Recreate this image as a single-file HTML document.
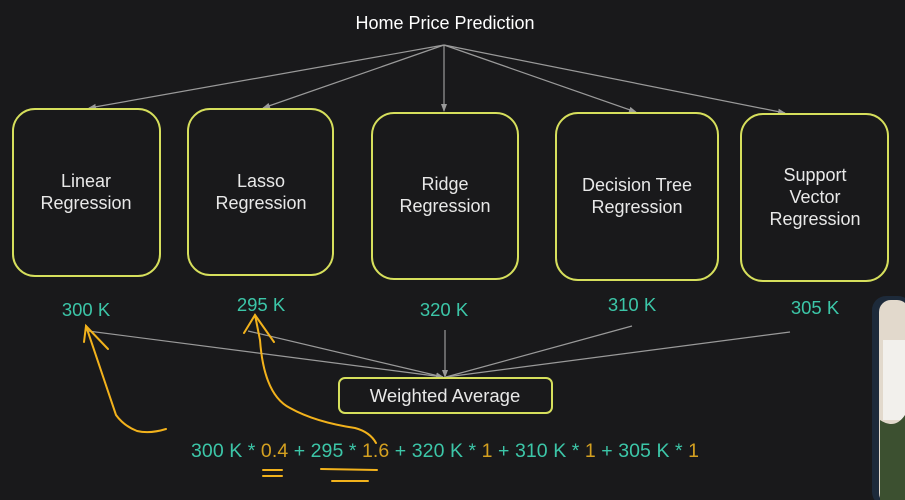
<!DOCTYPE html>
<html><head><meta charset="utf-8"><style>
html,body{margin:0;padding:0;background:#19191b;}
svg{display:block;font-family:"Liberation Sans",sans-serif;}
</style></head><body>
<svg width="905" height="500" viewBox="0 0 905 500">
<defs><marker id="ah" markerWidth="8" markerHeight="8" refX="7" refY="4" orient="auto" markerUnits="userSpaceOnUse"><path d="M0,1 L8,4 L0,7 Z" fill="#9a9a9a"/></marker></defs>
<rect width="905" height="500" fill="#19191b"/>
<g>
<rect x="872" y="296" width="40" height="210" rx="14" fill="#1d2a3a"/>
<rect x="879" y="300" width="30" height="205" rx="12" fill="#e2d9cc"/>
<rect x="883" y="340" width="22" height="80" fill="#f2f0ec"/>
<path d="M880,420 Q895,430 905,415 L905,500 L880,500 Z" fill="#3c5030"/>
</g>
<text x="445" y="29" fill="#ffffff" font-size="18" text-anchor="middle">Home Price Prediction</text>
<g stroke="#9a9a9a" stroke-width="1.2" fill="none">
<line x1="444" y1="45" x2="89" y2="108" marker-end="url(#ah)"/>
<line x1="444" y1="45" x2="263" y2="108" marker-end="url(#ah)"/>
<line x1="444" y1="45" x2="444" y2="111" marker-end="url(#ah)"/>
<line x1="444" y1="45" x2="636" y2="112" marker-end="url(#ah)"/>
<line x1="444" y1="45" x2="785" y2="113" marker-end="url(#ah)"/>
</g>
<g stroke="#d6df5c" stroke-width="2" fill="none">
<rect x="13" y="109" width="147" height="167" rx="22"/>
<rect x="188" y="109" width="145" height="166" rx="22"/>
<rect x="372" y="113" width="146" height="166" rx="22"/>
<rect x="556" y="113" width="162" height="167" rx="22"/>
<rect x="741" y="114" width="147" height="167" rx="22"/>
</g>
<g fill="#e8e8e8" font-size="18" text-anchor="middle">
<text x="86" y="187"><tspan x="86">Linear</tspan><tspan x="86" dy="22">Regression</tspan></text>
<text x="261" y="187"><tspan x="261">Lasso</tspan><tspan x="261" dy="22">Regression</tspan></text>
<text x="445" y="190"><tspan x="445">Ridge</tspan><tspan x="445" dy="22">Regression</tspan></text>
<text x="637" y="191"><tspan x="637">Decision Tree</tspan><tspan x="637" dy="22">Regression</tspan></text>
<text x="815" y="181"><tspan x="815">Support</tspan><tspan x="815" dy="22">Vector</tspan><tspan x="815" dy="22">Regression</tspan></text>
</g>
<g fill="#3cc6a8" font-size="18.5" text-anchor="middle">
<text x="86" y="316">300 K</text>
<text x="261" y="311">295 K</text>
<text x="444" y="316">320 K</text>
<text x="632" y="311">310 K</text>
<text x="815" y="314">305 K</text>
</g>
<g stroke="#9a9a9a" stroke-width="1.2" fill="none">
<line x1="88" y1="331" x2="443" y2="377" marker-end="url(#ah)"/>
<line x1="248" y1="331" x2="443" y2="377" marker-end="url(#ah)"/>
<line x1="445" y1="330" x2="445" y2="377" marker-end="url(#ah)"/>
<line x1="632" y1="326" x2="446" y2="377"/>
<line x1="790" y1="332" x2="446" y2="377"/>
</g>
<rect x="339" y="378" width="213" height="35" rx="6" fill="none" stroke="#d6df5c" stroke-width="2"/>
<text x="445" y="402" fill="#e8e8e8" font-size="18.5" text-anchor="middle">Weighted Average</text>
<text x="191" y="457" font-size="19.5" fill="#3cc6a8" textLength="508" lengthAdjust="spacing">300 K * <tspan fill="#d4a020">0.4</tspan> + 295 * <tspan fill="#d4a020">1.6</tspan> + 320 K * <tspan fill="#d4a020">1</tspan> + 310 K * <tspan fill="#d4a020">1</tspan> + 305 K * <tspan fill="#d4a020">1</tspan></text>
<g stroke="#f2b21c" stroke-width="2" fill="none" stroke-linecap="round">
<path d="M166,429 Q150,434 137,431 Q124,426 116,415 L86,326"/>
<path d="M84,342 L86,326 L108,349"/>
<path d="M376,443 Q370,432 355,428 Q315,422 290,408 Q264,395 260,340 L255,315"/>
<path d="M244,333 L255,315 L274,342"/>
<path d="M263,470 L282,470 M263,476 L282,476"/>
<path d="M321,469 L377,470 M332,481 L368,481"/>
</g>
</svg>
</body></html>
